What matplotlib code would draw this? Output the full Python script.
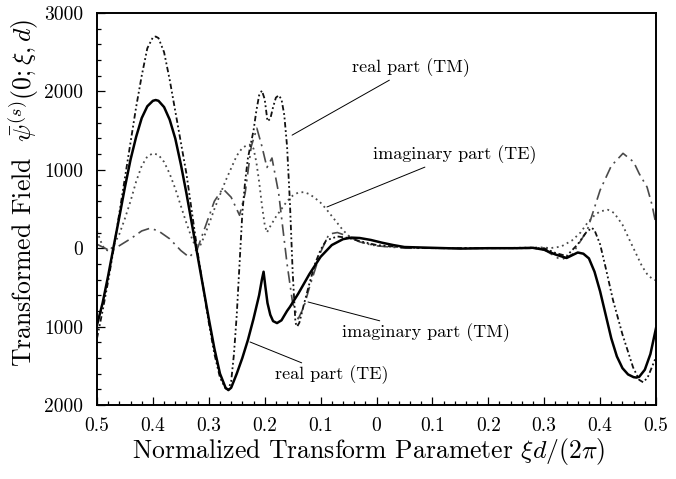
import matplotlib
matplotlib.use("Agg")
import matplotlib.pyplot as plt
from matplotlib.ticker import MultipleLocator

plt.rcParams["font.family"] = "cmr10"
plt.rcParams["mathtext.fontset"] = "cm"
plt.rcParams["axes.unicode_minus"] = False

# Real part, TE polarisation (solid)
re_te_x = [-0.5, -0.49, -0.48, -0.47, -0.46, -0.45, -0.44, -0.43, -0.42, -0.41,
           -0.40, -0.395, -0.39, -0.38, -0.37, -0.36, -0.35, -0.34, -0.33, -0.32,
           -0.31, -0.30, -0.29, -0.28, -0.27, -0.265, -0.26, -0.25, -0.24, -0.23,
           -0.22, -0.21, -0.205, -0.202, -0.199, -0.195, -0.19, -0.185, -0.178, -0.17,
           -0.16, -0.155, -0.14, -0.12, -0.10, -0.08, -0.06, -0.045, -0.03, -0.01,
           0.01, 0.03, 0.05, 0.10, 0.15, 0.20, 0.25, 0.28, 0.30, 0.32,
           0.34, 0.36, 0.37, 0.38, 0.39, 0.40, 0.41, 0.42, 0.43, 0.44,
           0.45, 0.46, 0.465, 0.47, 0.48, 0.49, 0.5]
re_te_y = [-980, -700, -350, 30, 400, 780, 1130, 1420, 1660, 1810,
           1880, 1890, 1880, 1800, 1640, 1400, 1070, 700, 300, -100,
           -500, -900, -1280, -1600, -1780, -1810, -1780, -1600, -1400, -1170,
           -900, -600, -400, -300, -480, -700, -850, -930, -955, -920,
           -800, -750, -580, -330, -110, 40, 115, 135, 130, 105,
           70, 40, 15, 5, -5, 0, 0, 5, -20, -80,
           -125, -55, -70, -130, -300, -550, -850, -1150, -1380, -1530,
           -1610, -1645, -1650, -1640, -1550, -1350, -1020]

# Imaginary part, TE polarisation (dotted)
im_te_x = [-0.5, -0.495, -0.49, -0.485, -0.48, -0.475, -0.47, -0.46, -0.45, -0.44,
           -0.43, -0.42, -0.41, -0.40, -0.39, -0.38, -0.37, -0.36, -0.35, -0.34,
           -0.33, -0.325, -0.32, -0.315, -0.31, -0.30, -0.29, -0.28, -0.27, -0.26,
           -0.25, -0.24, -0.23, -0.226, -0.22, -0.215, -0.21, -0.205, -0.20, -0.196,
           -0.19, -0.18, -0.17, -0.16, -0.15, -0.14, -0.13, -0.12, -0.11, -0.10,
           -0.09, -0.08, -0.07, -0.06, -0.05, -0.04, -0.02, 0.0, 0.05, 0.10,
           0.20, 0.30, 0.31, 0.33, 0.35, 0.365, 0.377, 0.39, 0.40, 0.414,
           0.425, 0.44, 0.453, 0.465, 0.475, 0.485, 0.495, 0.5]
im_te_y = [220, 120, 30, -20, -30, -10, 40, 180, 380, 600,
           850, 1050, 1170, 1210, 1190, 1100, 950, 760, 540, 320,
           120, 40, 10, 40, 120, 300, 500, 680, 860, 1020,
           1180, 1280, 1320, 1320, 1270, 1100, 850, 550, 300, 200,
           280, 400, 500, 600, 670, 710, 715, 690, 640, 580,
           500, 410, 320, 230, 160, 110, 60, 30, 10, 0,
           0, 10, 0, 20, 100, 200, 320, 420, 470, 490,
           450, 300, 100, -80, -230, -340, -400, -410]

# Real part, TM polarisation (dash-dot-dot)
re_tm_x = [-0.5, -0.49, -0.48, -0.47, -0.46, -0.45, -0.44, -0.43, -0.42, -0.41,
           -0.40, -0.395, -0.39, -0.38, -0.37, -0.36, -0.35, -0.34, -0.33, -0.32,
           -0.31, -0.30, -0.29, -0.28, -0.27, -0.265, -0.26, -0.255, -0.25, -0.245,
           -0.24, -0.235, -0.23, -0.22, -0.215, -0.21, -0.205, -0.20, -0.195, -0.19,
           -0.185, -0.18, -0.175, -0.17, -0.165, -0.16, -0.155, -0.15, -0.145, -0.142,
           -0.138, -0.13, -0.12, -0.11, -0.10, -0.09, -0.07, -0.05, -0.03, 0.0,
           0.05, 0.10, 0.20, 0.30, 0.32, 0.34, 0.36, 0.375, 0.385, 0.39,
           0.40, 0.41, 0.423, 0.44, 0.459, 0.47, 0.477, 0.485, 0.5]
re_tm_y = [-1150, -800, -420, 0, 450, 900, 1350, 1800, 2200, 2550,
           2690, 2700, 2680, 2500, 2150, 1750, 1350, 950, 450, -50,
           -500, -950, -1350, -1650, -1790, -1800, -1700, -1350, -850, -200,
           450, 850, 1150, 1500, 1750, 1950, 2010, 1900, 1620, 1650,
           1800, 1920, 1950, 1900, 1700, 1300, 600, -300, -950, -1000,
           -950, -720, -450, -200, -20, 100, 150, 130, 90, 40,
           10, 0, 0, 0, -60, -100, 50, 200, 260, 230,
           50, -250, -660, -1100, -1520, -1680, -1710, -1650, -1390]

# Imaginary part, TM polarisation (long dash-dot)
im_tm_x = [-0.5, -0.48, -0.465, -0.44, -0.42, -0.405, -0.39, -0.37, -0.35, -0.335,
           -0.32, -0.31, -0.29, -0.275, -0.26, -0.245, -0.235, -0.224, -0.214, -0.205,
           -0.196, -0.187, -0.175, -0.16, -0.15, -0.14, -0.13, -0.12, -0.10, -0.085,
           -0.07, -0.05, -0.03, 0.0, 0.05, 0.10, 0.20, 0.28, 0.30, 0.33,
           0.35, 0.377, 0.40, 0.42, 0.441, 0.46, 0.47, 0.484, 0.493, 0.5]
im_tm_y = [50, -20, 10, 120, 220, 255, 220, 120, -30, -115,
           0, 200, 600, 760, 650, 420, 700, 1300, 1530, 1300,
           1030, 1150, 700, -200, -700, -900, -750, -500, -50, 180,
           200, 150, 80, 30, 0, 0, 0, 0, -20, -150,
           -80, 230, 740, 1050, 1210, 1100, 950, 780, 550, 300]

x_ticks = [-0.5, -0.4, -0.3, -0.2, -0.1, 0.0, 0.1, 0.2, 0.3, 0.4, 0.5]
x_tick_labels = ["0.5", "0.4", "0.3", "0.2", "0.1", "0", "0.1", "0.2", "0.3", "0.4", "0.5"]
y_ticks = [-2000, -1000, 0, 1000, 2000, 3000]
y_tick_labels = ["2000", "1000", "0", "1000", "2000", "3000"]

fig = plt.figure(figsize=(6.76, 4.79), dpi=100)
ax = fig.add_axes([97 / 676, 1 - 405 / 479, 559 / 676, 392 / 479])

ax.plot(im_tm_x, im_tm_y, color="#4a4a4a", lw=1.2, linestyle=(0, (7, 3, 1.2, 3)))
ax.plot(im_te_x, im_te_y, color="#4a4a4a", lw=1.3, linestyle=(0, (1, 2)))
ax.plot(re_tm_x, re_tm_y, color="#111111", lw=1.3,
        linestyle=(0, (3, 1.5, 1, 1.5, 1, 1.5)))
ax.plot(re_te_x, re_te_y, color="black", lw=1.8, linestyle="-")

ax.set_xlim(-0.5, 0.5)
ax.set_ylim(-2000, 3000)
ax.set_xticks(x_ticks)
ax.set_xticklabels(x_tick_labels)
ax.set_yticks(y_ticks)
ax.set_yticklabels(y_tick_labels)
ax.xaxis.set_minor_locator(MultipleLocator(0.02))
ax.yaxis.set_minor_locator(MultipleLocator(200))
ax.tick_params(which="both", direction="in", top=False, right=False,
               labelsize=14, width=0.9)
ax.tick_params(which="major", length=6)
ax.tick_params(which="minor", length=3)
ax.tick_params(axis="x", pad=9)
ax.tick_params(axis="y", pad=10)
for s in ax.spines.values():
    s.set_linewidth(1.4)

ax.set_xlabel(r"Normalized Transform Parameter $\xi d/(2\pi)$", fontsize=18.5)
ax.set_ylabel(r"Transformed Field  $\bar{\psi}^{(s)}(0;\xi,d)$", fontsize=18.5)
ax.xaxis.set_label_coords(0.486, -0.08)
ax.yaxis.set_label_coords(-0.1, 0.54)

ann_kw = dict(fontsize=13, ha="left", va="center",
              arrowprops=dict(arrowstyle="-", lw=0.7, color="black",
                              shrinkA=0, shrinkB=0))
ax.annotate("real part (TM)", xy=(-0.151, 1442), xytext=(-0.044, 2298),
            **ann_kw)
ax.annotate("imaginary part (TE)", xy=(-0.0886, 526), xytext=(-0.0063, 1189),
            **ann_kw)
ax.annotate("imaginary part (TM)", xy=(-0.1225, -686), xytext=(-0.0617, -1081),
            **ann_kw)
ax.annotate("real part (TE)", xy=(-0.2263, -1196), xytext=(-0.1816, -1617),
            **ann_kw)

fig.savefig("out.png", dpi=100)
